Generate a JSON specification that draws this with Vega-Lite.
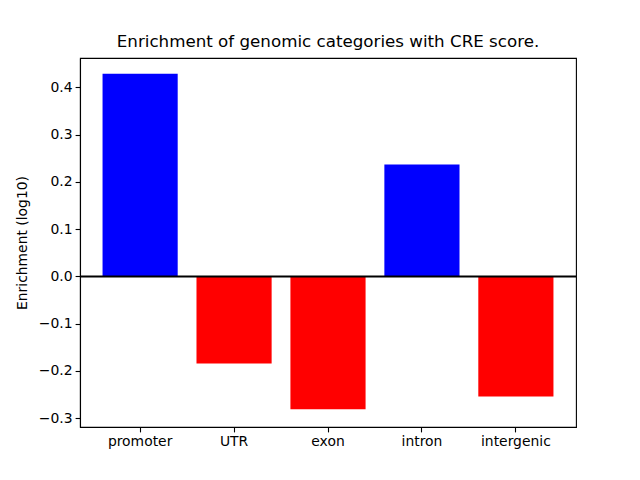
{
  "$schema": "https://vega.github.io/schema/vega-lite/v6.json",
  "autosize": "none",
  "width": 496,
  "height": 369,
  "padding": {"left": 80, "top": 58, "right": 64, "bottom": 53},
  "background": "white",
  "config": {
    "font": "DejaVu Sans",
    "view": {"stroke": "black", "strokeWidth": 1.1},
    "axis": {
      "domainColor": "black", "tickColor": "black", "labelColor": "black", "titleColor": "black",
      "labelFont": "DejaVu Sans", "titleFont": "DejaVu Sans", "labelFontSize": 13.9, "titleFontSize": 13.9,
      "titleFontWeight": "normal", "tickSize": 4.9, "labelPadding": 3, "grid": false, "domainWidth": 1.1, "tickWidth": 1.1
    }
  },
  "title": {"text": "Enrichment of genomic categories with CRE score.", "fontSize": 16.7, "fontWeight": "normal", "font": "DejaVu Sans", "color": "black", "offset": 7},
  "data": {"values": [
    {"category": "promoter", "value": 0.429},
    {"category": "UTR", "value": -0.184},
    {"category": "exon", "value": -0.281},
    {"category": "intron", "value": 0.237},
    {"category": "intergenic", "value": -0.254}
  ]},
  "layer": [
    {
      "mark": {"type": "bar"},
      "encoding": {
        "x": {"field": "category", "type": "nominal", "sort": null,
              "scale": {"paddingInner": 0.2, "paddingOuter": 0.24},
              "axis": {"title": null, "labelAngle": 0}},
        "y": {"field": "value", "type": "quantitative",
              "scale": {"domain": [-0.3186, 0.4624], "nice": false, "zero": false},
              "axis": {"title": "Enrichment (log10)", "values": [-0.3, -0.2, -0.1, 0, 0.1, 0.2, 0.3, 0.4], "format": ".1f", "titlePadding": 9}},
        "color": {"condition": {"test": "datum.value > 0", "value": "#0000ff"}, "value": "#ff0000"}
      }
    },
    {
      "data": {"values": [{"y": 0}]},
      "mark": {"type": "rule", "color": "black", "strokeWidth": 2},
      "encoding": {"y": {"field": "y", "type": "quantitative"}}
    }
  ]
}
